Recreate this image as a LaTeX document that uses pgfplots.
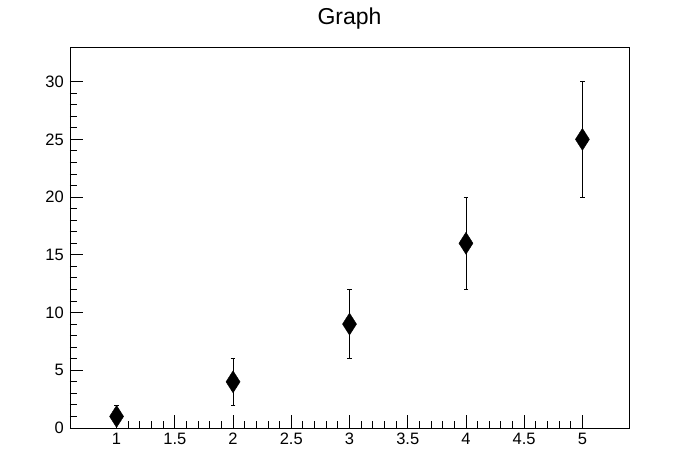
\documentclass[border=0pt]{standalone}
\usepackage{fontspec}
\setmainfont{Liberation Sans}
\usepackage{pgfplots}
\pgfplotsset{compat=1.18}
\begin{document}
\begin{tikzpicture}[x=1pt,y=1pt]
\begin{axis}[
    scale only axis, clip=false,
    width=559pt, height=381pt,
    xmin=0.6, xmax=5.4, ymin=0, ymax=33,
    xtick={1,1.5,...,5},
    xticklabels={1,1.5,2,2.5,3,3.5,4,4.5,5},
    ytick={0,5,...,30},
    minor x tick num=4, minor y tick num=4,
    tick pos=left, tick align=inside,
    major tick length=13pt, minor tick length=6.5pt,
    axis line style={line width=0.9pt},
    every tick/.style={black, line width=0.9pt},
    ticklabel style={font=\fontsize{16.5}{16.5}\selectfont, inner sep=0pt},
    xticklabel style={yshift=-5pt},
    yticklabel style={xshift=-6pt},
    /pgf/number format/assume math mode=true,
]
\addplot[black, only marks, mark=diamond*, mark size=11pt,
    mark options={xscale=0.85, fill=black},
    error bars/.cd, y dir=both, y explicit, error mark=|,
    error bar style={line width=0.8pt, black},
    error mark options={mark size=2.3pt, line width=0.8pt, black}]
    table[x=x, y=y, y error=ey] {
    x y ey
    1 1 1
    2 4 2
    3 9 3
    4 16 4
    5 25 5
};
\node[font=\fontsize{23}{23}\selectfont] at (rel axis cs:0.5,1) [yshift=28pt] {Graph};
\end{axis}
\path (-70pt,-48pt) rectangle (628pt,428pt);
\end{tikzpicture}
\end{document}
